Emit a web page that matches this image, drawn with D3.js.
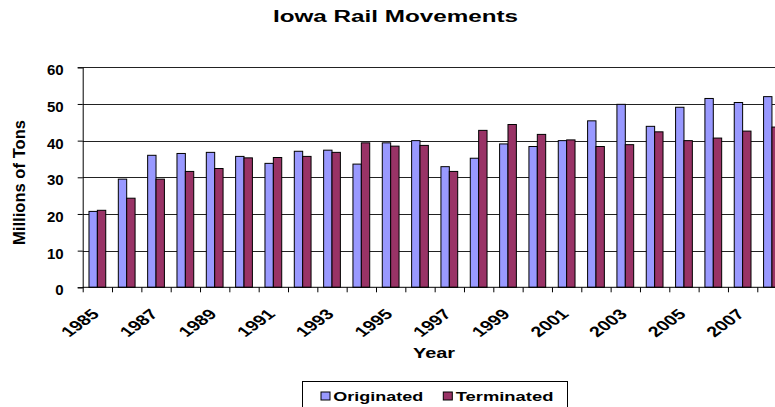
<!DOCTYPE html>
<html>
<head>
<meta charset="utf-8">
<script src="https://cdn.jsdelivr.net/npm/d3@7"></script>
<style>
  body { margin: 0; background: #fff; }
  text { font-family: Arial, "Liberation Sans", sans-serif; font-weight: bold; fill: #000; }
</style>
</head>
<body>
<svg width="775" height="407"></svg>
<script>
// data
var years = ["1985","1986","1987","1988","1989","1990","1991","1992","1993","1994","1995","1996",
             "1997","1998","1999","2000","2001","2002","2003","2004","2005","2006","2007","2008"];
var originated = [20.7, 29.5, 36.0, 36.5, 36.8, 35.7, 33.8, 37.1, 37.4, 33.6, 39.4, 40.0,
                  32.9, 35.2, 39.1, 38.4, 40.0, 45.4, 49.9, 43.9, 49.1, 51.5, 50.4, 52.0];
var terminated = [21.0, 24.3, 29.5, 31.6, 32.4, 35.3, 35.4, 35.7, 36.8, 39.4, 38.5, 38.7,
                  31.6, 42.8, 44.4, 41.7, 40.2, 38.4, 38.9, 42.4, 40.0, 40.7, 42.6, 43.7];
var seriesNames = ["Originated", "Terminated"];
var seriesColors = ["#9999ff", "#993366"];
var yTicks = [0, 10, 20, 30, 40, 50, 60];
var yearLabels = ["1985","1987","1989","1991","1993","1995","1997","1999","2001","2003","2005","2007"];

var svg = d3.select("svg");

var plotLeft = 82.7, plotBottom = 287.3, plotTop = 67.3, step = 29.33;
var plotRight = plotLeft + step * years.length;   // runs past the window edge, like the picture

var x = d3.scaleBand()
  .domain(years)
  .range([plotLeft, plotRight])
  .paddingInner(1.5 / 3.5)
  .paddingOuter(0.75 / 3.5);

var xSeries = d3.scaleBand()
  .domain(seriesNames)
  .range([0, x.bandwidth()]);

var y = d3.scaleLinear()
  .domain([0, 60])
  .range([plotBottom, plotTop]);

// gridlines
svg.append("g")
  .selectAll("line")
  .data(yTicks.slice(1))
  .enter().append("line")
  .attr("x1", plotLeft).attr("x2", 775)
  .attr("y1", function(d) { return Math.round(y(d)) + 0.5; })
  .attr("y2", function(d) { return Math.round(y(d)) + 0.5; })
  .attr("stroke", "#222")
  .attr("stroke-width", 1);

// bars
var rows = years.map(function(yr, i) {
  return { year: yr, values: [originated[i], terminated[i]] };
});

var group = svg.append("g")
  .selectAll("g")
  .data(rows)
  .enter().append("g")
  .attr("transform", function(d) { return "translate(" + x(d.year) + ",0)"; });

group.selectAll("rect")
  .data(function(d) { return d.values.map(function(v, k) { return { name: seriesNames[k], value: v, k: k }; }); })
  .enter().append("rect")
  .attr("x", function(d) { return xSeries(d.name); })
  .attr("width", xSeries.bandwidth())
  .attr("y", function(d) { return y(d.value); })
  .attr("height", function(d) { return plotBottom - y(d.value); })
  .attr("fill", function(d) { return seriesColors[d.k]; })
  .attr("stroke", "#000")
  .attr("stroke-width", 1);

// y axis
var yAxis = svg.append("g")
  .attr("transform", "translate(" + plotLeft + ",0)")
  .call(d3.axisLeft(y).tickValues(yTicks).tickSize(5).tickPadding(14).tickFormat(d3.format("d")));
yAxis.select(".domain").attr("stroke", "#000");
yAxis.selectAll(".tick line").attr("stroke", "#000");
yAxis.selectAll("text")
  .style("font-size", "15px")
  .style("font-family", "Arial, 'Liberation Sans', sans-serif")
  .style("font-weight", "bold")
  .attr("dy", "0.5em");

// x axis: baseline plus ticks on category boundaries
svg.append("line")
  .attr("x1", plotLeft).attr("x2", 775)
  .attr("y1", plotBottom).attr("y2", plotBottom)
  .attr("stroke", "#000");

svg.append("g")
  .selectAll("line")
  .data(years)
  .enter().append("line")
  .attr("x1", function(d) { return x(d) - x.step() * 0.75 / 3.5 + 0.5; })
  .attr("x2", function(d) { return x(d) - x.step() * 0.75 / 3.5 + 0.5; })
  .attr("y1", plotBottom).attr("y2", plotBottom + 5)
  .attr("stroke", "#000");

// rotated year labels (stretched sideways as in the picture)
svg.append("g")
  .selectAll("text")
  .data(yearLabels)
  .enter().append("text")
  .attr("text-anchor", "end")
  .style("font-size", "14.5px")
  .attr("transform", function(d) {
    return "translate(" + (x(d) + x.bandwidth() / 2 + 3) + "," + 315 + ") scale(1.36,1) rotate(-45)";
  })
  .text(function(d) { return d; });

// titles
svg.append("text")
  .attr("x", 395.5).attr("y", 22)
  .attr("text-anchor", "middle")
  .attr("textLength", 245).attr("lengthAdjust", "spacingAndGlyphs")
  .style("font-size", "16px")
  .text("Iowa Rail Movements");

svg.append("text")
  .attr("x", 434).attr("y", 358)
  .attr("text-anchor", "middle")
  .attr("textLength", 42).attr("lengthAdjust", "spacingAndGlyphs")
  .style("font-size", "14px")
  .text("Year");

svg.append("text")
  .attr("transform", "translate(25,182.5) rotate(-90)")
  .attr("text-anchor", "middle")
  .attr("textLength", 125).attr("lengthAdjust", "spacingAndGlyphs")
  .style("font-size", "16px")
  .text("Millions of Tons");

// legend
var legend = svg.append("g");
legend.append("rect")
  .attr("x", 302.5).attr("y", 381.5)
  .attr("width", 265).attr("height", 40)
  .attr("fill", "#fff").attr("stroke", "#000");

var legendX = [321, 443.3], legendTextX = [333.3, 455.7], legendTextW = [90, 97.7];
var item = legend.selectAll("g.item")
  .data(seriesNames)
  .enter().append("g").attr("class", "item");
item.append("rect")
  .attr("x", function(d, i) { return legendX[i]; })
  .attr("y", 392)
  .attr("width", 9).attr("height", 8)
  .attr("fill", function(d, i) { return seriesColors[i]; })
  .attr("stroke", "#000");
item.append("text")
  .attr("x", function(d, i) { return legendTextX[i]; })
  .attr("y", 400.7)
  .attr("textLength", function(d, i) { return legendTextW[i]; })
  .attr("lengthAdjust", "spacingAndGlyphs")
  .style("font-size", "13.5px")
  .text(function(d) { return d; });
</script>
</body>
</html>
